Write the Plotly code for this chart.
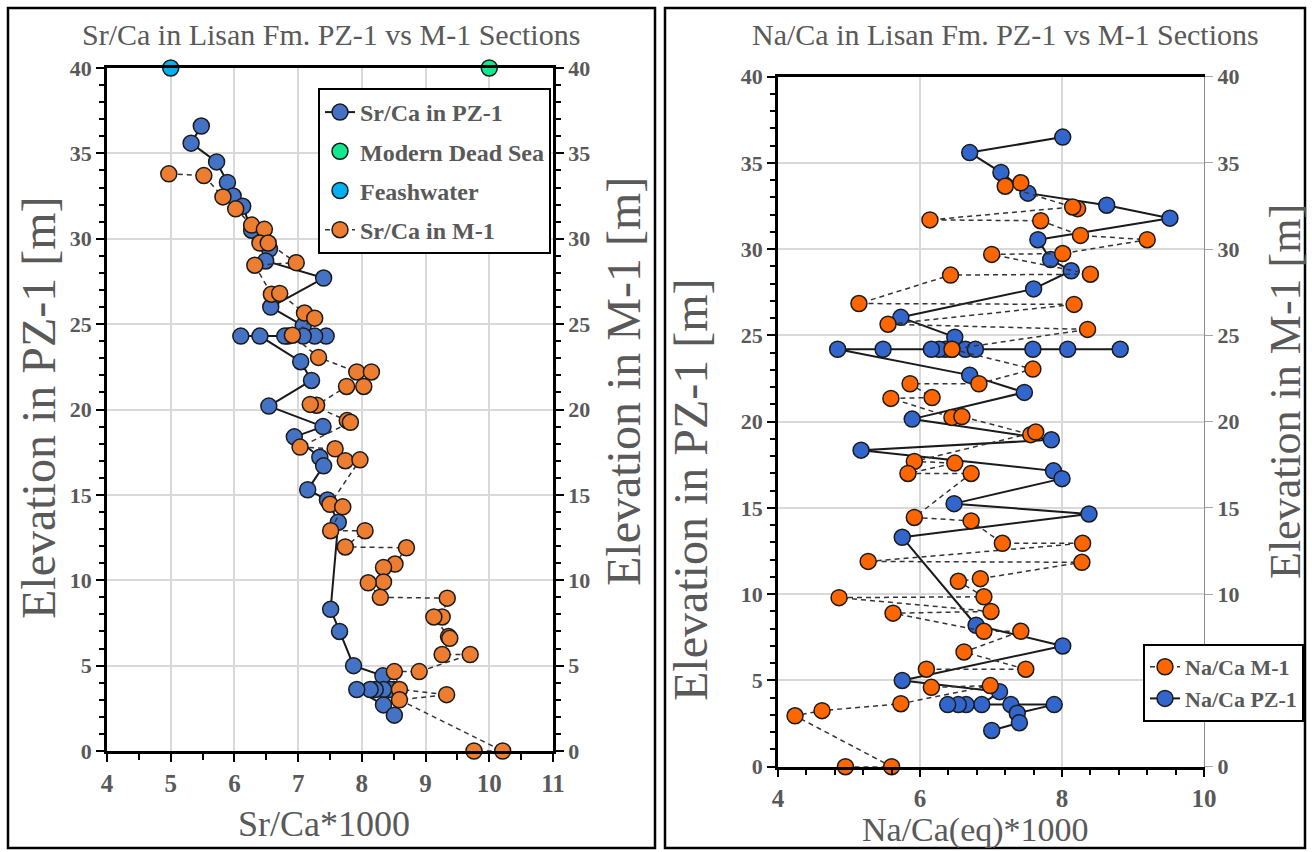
import plotly.graph_objects as go

# ---------------- Sr/Ca panel ----------------
# PZ-1 section: elevation [m] and Sr/Ca*1000
sr_pz1_elev = [36.6, 35.6, 34.5, 33.3, 32.5, 31.9, 30.5, 29.4, 28.7, 27.7, 26.0, 24.9,
               24.3, 24.3, 24.3, 24.3, 24.3, 24.3, 24.3,
               22.8, 21.7, 20.2, 19.0, 18.4, 17.2, 16.7, 15.3, 14.7, 13.4, 8.3, 7.0, 5.0, 4.4,
               3.6, 3.6, 3.6, 3.6, 3.6, 3.6, 2.7, 2.1]
sr_pz1_val = [5.48, 5.32, 5.72, 5.89, 5.98, 6.13, 6.27, 6.55, 6.49, 7.40, 6.57, 7.08,
              7.44, 7.26, 7.08, 6.84, 6.79, 6.10, 6.40,
              7.04, 7.21, 6.54, 7.39, 6.94, 7.34, 7.40, 7.15, 7.46, 7.63, 7.51, 7.65, 7.87, 8.33,
              8.50, 8.45, 8.34, 8.21, 8.13, 7.92, 8.34, 8.51]

# M-1 section
sr_m1_elev = [33.8, 33.7, 32.45, 31.75, 30.8, 30.55, 29.75, 29.75, 28.6, 28.45, 26.75, 26.8,
              25.65, 25.35, 24.35, 23.05, 22.2, 22.2, 21.35, 21.35, 20.25, 20.3, 19.35, 19.25,
              17.8, 17.7, 17.0, 17.05, 14.45, 14.3, 12.9, 12.9, 11.95, 11.9, 10.95, 10.75,
              9.9, 9.85, 9.0, 8.95, 7.85, 7.85, 6.7, 6.6, 5.65, 5.65, 4.65, 4.65,
              3.6, 3.3, 3.0, 0.0, 0.0]
sr_m1_val = [4.97, 5.52, 5.82, 6.02, 6.27, 6.47, 6.40, 6.53, 6.97, 6.32, 6.58, 6.71,
             7.10, 7.26, 6.91, 7.32, 7.92, 8.15, 8.03, 7.76, 7.29, 7.19, 7.77, 7.82,
             7.03, 7.58, 7.74, 7.97, 7.50, 7.70, 7.51, 8.05, 7.74, 8.70, 8.52, 8.34,
             8.34, 8.10, 8.29, 9.34, 9.26, 9.13, 9.36, 9.38, 9.26, 9.70, 8.90, 8.51,
             8.59, 9.33, 8.59, 10.21, 9.76]

# Reference waters plotted on the top border
deadsea_val, deadsea_elev = [10.0], [40.0]
fresh_val, fresh_elev = [5.0], [40.0]

# ---------------- Na/Ca panel ----------------
na_pz1_elev = [36.5, 35.6, 34.45, 33.25, 32.55, 31.8, 30.55, 29.4, 28.75, 27.7, 26.05, 24.9,
               24.2, 24.2, 24.2, 24.2, 24.2, 24.2, 24.2, 24.2, 24.2, 24.2, 24.2,
               22.7, 21.7, 20.15, 18.95, 18.35, 17.15, 16.7, 15.25, 14.65, 13.3, 8.2, 7.0,
               5.0, 4.35, 3.6, 3.6, 3.6, 3.6, 3.6, 3.6, 3.1, 2.55, 2.1]
na_pz1_val = [8.01, 6.70, 7.14, 7.52, 8.63, 9.52, 7.66, 7.84, 8.13, 7.60, 5.73, 6.49,
              6.45, 6.64, 6.78, 7.59, 8.08, 8.82, 6.36, 6.27, 6.16, 5.48, 4.84,
              6.70, 7.47, 5.89, 7.85, 5.17, 7.88, 8.00, 6.48, 8.38, 5.75, 6.79, 8.01,
              5.75, 7.12, 6.87, 6.65, 6.54, 6.39, 7.28, 7.89, 7.37, 7.40, 7.01]

na_m1_elev = [33.85, 33.65, 32.35, 32.45, 31.7, 31.65, 30.8, 30.55, 29.75, 29.7, 28.55, 28.5,
              26.85, 26.8, 25.65, 25.35, 24.2, 23.05, 22.2, 22.2, 21.4, 21.35, 20.25, 20.3,
              19.25, 19.4, 17.7, 17.6, 17.0, 17.0, 14.45, 14.25, 12.95, 12.95, 11.9, 11.85,
              10.9, 10.75, 9.85, 9.8, 9.0, 8.9, 7.85, 7.85, 6.65, 5.65, 5.65, 4.6, 4.7,
              3.65, 3.25, 2.95, 0.0, 0.0]
na_m1_val = [7.42, 7.20, 8.22, 8.15, 6.14, 7.70, 8.26, 9.20, 8.01, 7.01, 8.40, 6.43,
             5.14, 8.17, 5.55, 8.36, 6.45, 7.59, 6.83, 5.86, 6.17, 5.59, 6.45, 6.59,
             7.56, 7.63, 5.92, 6.49, 5.83, 6.72, 5.92, 6.72, 7.16, 8.29, 5.27, 8.28,
             6.85, 6.54, 6.90, 4.86, 7.00, 5.62, 6.90, 7.42, 6.62, 7.49, 6.09, 6.16, 6.99,
             5.73, 4.62, 4.24, 5.60, 4.95]

# right-hand elevation labels of the Na/Ca panel (5 sits under the legend box)
na_m1_ticks = [0, 10, 15, 20, 25, 30, 35, 40]

W, H = 1312, 852
FONT = "Liberation Serif"
GREY = "#595959"


def px_x(p):
    return p / W


def px_y(p):
    return 1 - p / H


def circle(color, size=16):
    return dict(symbol="circle", size=size, color=color, line=dict(color="#1a1a1a", width=1.5))


fig = go.Figure()

# Sr/Ca traces (left panel)
fig.add_trace(go.Scatter(x=sr_pz1_val, y=sr_pz1_elev, name="Sr/Ca in PZ-1", mode="lines+markers",
                         line=dict(color="#1a1a1a", width=2), marker=circle("#4472C4"),
                         xaxis="x", yaxis="y", legend="legend", legendgroup="a"))
fig.add_trace(go.Scatter(x=deadsea_val, y=deadsea_elev, name="Modern Dead Sea", mode="markers",
                         marker=circle("#12E88E"), cliponaxis=False,
                         xaxis="x", yaxis="y", legend="legend", legendgroup="b"))
fig.add_trace(go.Scatter(x=fresh_val, y=fresh_elev, name="Feashwater", mode="markers",
                         marker=circle("#00B0F0"), cliponaxis=False,
                         xaxis="x", yaxis="y", legend="legend", legendgroup="c"))
fig.add_trace(go.Scatter(x=sr_m1_val, y=sr_m1_elev, name="Sr/Ca in M-1", mode="lines+markers",
                         line=dict(color="#333333", width=1.5, dash="5px,4px"), marker=circle("#ED7D31"),
                         cliponaxis=False,
                         xaxis="x", yaxis="y2", legend="legend", legendgroup="d"))

# Na/Ca traces (right panel)
fig.add_trace(go.Scatter(x=na_m1_val, y=na_m1_elev, name="Na/Ca M-1", mode="lines+markers",
                         line=dict(color="#333333", width=1.5, dash="5px,4px"), marker=circle("#FF6600"),
                         cliponaxis=False,
                         xaxis="x2", yaxis="y4", legend="legend2", legendgroup="e"))
fig.add_trace(go.Scatter(x=na_pz1_val, y=na_pz1_elev, name="Na/Ca PZ-1", mode="lines+markers",
                         line=dict(color="#1a1a1a", width=2), marker=circle("#3366CC"),
                         xaxis="x2", yaxis="y3", legend="legend2", legendgroup="f"))

tickfont = dict(family=FONT, size=22, color=GREY, weight="bold")
xtickfont = dict(family=FONT, size=25, color=GREY, weight="bold")

common_y = dict(range=[0, 40], dtick=5, zeroline=False, tickfont=tickfont, automargin=False)

fig.update_layout(
    template="none",
    width=W, height=H,
    margin=dict(l=0, r=0, t=0, b=0, autoexpand=False),
    paper_bgcolor="white", plot_bgcolor="white",
    showlegend=True,
    xaxis=dict(domain=[px_x(107), px_x(553)], anchor="y", range=[4, 11], dtick=1, automargin=False,
               showgrid=True, gridcolor="#D9D9D9", gridwidth=2, zeroline=False,
               showline=True, linecolor="black", linewidth=2.5, mirror=True,
               ticks="outside", ticklen=8, tickwidth=1.5, tickcolor="black",
               minor=dict(dtick=0.5, ticks="outside", ticklen=6, tickcolor="black", showgrid=False),
               tickfont=xtickfont),
    yaxis=dict(domain=[px_y(751), px_y(68)], anchor="x", **common_y,
               showgrid=True, gridcolor="#D9D9D9", gridwidth=2,
               showline=True, linecolor="black", linewidth=2.5,
               ticks="outside", ticklen=8, tickwidth=1.5, tickcolor="black",
               minor=dict(dtick=1, ticks="outside", ticklen=5, tickcolor="black", showgrid=False)),
    yaxis2=dict(overlaying="y", side="right", anchor="x", **common_y, showgrid=False,
                showline=True, linecolor="black", linewidth=2.5,
                ticks="outside", ticklen=8, tickwidth=1.5, tickcolor="black",
                minor=dict(dtick=1, ticks="outside", ticklen=5, tickcolor="black")),
    xaxis2=dict(domain=[px_x(778), px_x(1204)], anchor="y3", range=[4, 10], dtick=2, automargin=False,
                showgrid=True, gridcolor="#D9D9D9", gridwidth=2, zeroline=False,
                showline=True, linecolor="black", linewidth=2.5, mirror=True,
                ticks="outside", ticklen=8, tickwidth=1.5, tickcolor="black",
                minor=dict(dtick=0.4, ticks="outside", ticklen=6, tickcolor="black", showgrid=False),
                ticklabelstandoff=0,
                tickfont=xtickfont),
    yaxis3=dict(domain=[px_y(766.7), px_y(76.7)], anchor="x2", **common_y,
                showgrid=True, gridcolor="#D9D9D9", gridwidth=2,
                showline=True, linecolor="black", linewidth=2.5,
                ticks="outside", ticklen=8, tickwidth=1.5, tickcolor="black",
                minor=dict(dtick=1, ticks="outside", ticklen=5, tickcolor="black", showgrid=False)),
    yaxis4=dict(overlaying="y3", side="right", anchor="x2", range=[0, 40], zeroline=False,
                tickfont=tickfont, automargin=False, tickmode="array", tickvals=na_m1_ticks,
                showgrid=False, showline=True, linecolor="#8C8C8C", linewidth=1.2,
                ticks="outside", ticklen=8, tickwidth=1, tickcolor="#A6A6A6"),
    legend=dict(x=px_x(318), y=px_y(88), xanchor="left", yanchor="top",
                bgcolor="white", bordercolor="black", borderwidth=2,
                font=dict(family=FONT, size=24, color=GREY, weight="bold"),
                tracegroupgap=5, itemwidth=30),
    legend2=dict(x=px_x(1143), y=px_y(644), xanchor="left", yanchor="top",
                 bgcolor="white", bordercolor="black", borderwidth=2,
                 font=dict(family=FONT, size=22, color=GREY, weight="bold"),
                 tracegroupgap=0, itemwidth=30),
)

title_font = dict(family=FONT, size=30, color=GREY)
label_font = dict(family=FONT, size=36, color=GREY)
ylabel_font = dict(family=FONT, size=48, color=GREY)


def note(text, x, y, font, angle=0):
    fig.add_annotation(text=text, x=px_x(x), y=px_y(y), xref="paper", yref="paper",
                       showarrow=False, font=font, textangle=angle,
                       xanchor="center", yanchor="middle")


note("Sr/Ca in Lisan Fm. PZ-1 vs M-1 Sections", 331, 35, title_font)
note("Na/Ca in Lisan Fm. PZ-1 vs M-1 Sections", 1005, 35, title_font)
note("Sr/Ca*1000", 324, 824, label_font)
note("Na/Ca(eq)*1000", 975, 830, dict(family=FONT, size=34, color=GREY))
note("Elevation in PZ-1 [m]", 38, 408, ylabel_font, -90)
note("Elevation in M-1 [m]", 624, 382, ylabel_font, -90)
note("Elevation in PZ-1 [m]", 690, 490, ylabel_font, -90)
note("Elevation in M-1 [m]", 1285, 392, dict(family=FONT, size=44, color=GREY), -90)

# panel frames
for x0, x1 in [(8, 655), (665, 1305)]:
    fig.add_shape(type="rect", xref="paper", yref="paper",
                  x0=px_x(x0), x1=px_x(x1), y0=px_y(848), y1=px_y(8),
                  line=dict(color="black", width=2.5), fillcolor="rgba(0,0,0,0)")

fig.write_html("out.html")
